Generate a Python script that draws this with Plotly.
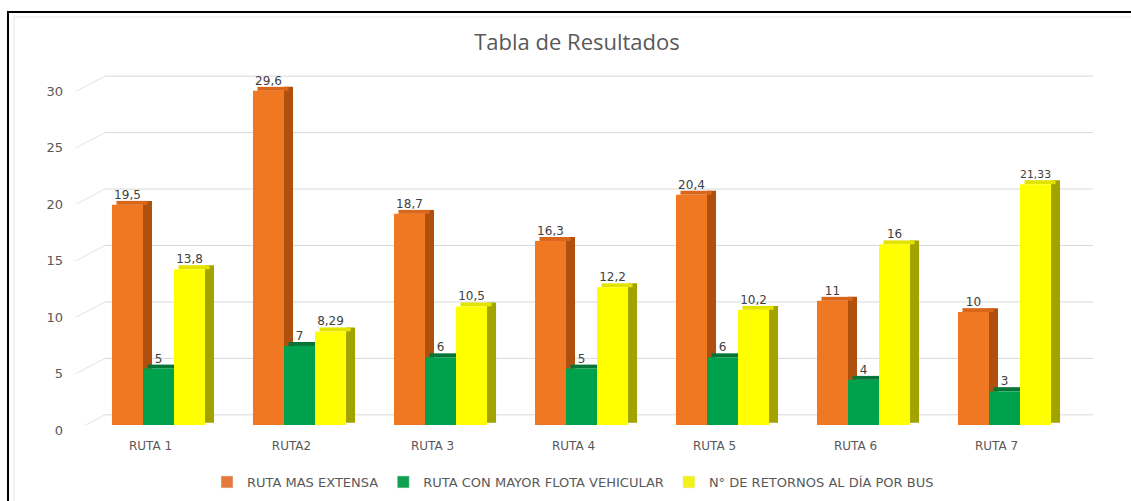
import plotly.graph_objects as go

categories = ["RUTA 1", "RUTA2", "RUTA 3", "RUTA 4", "RUTA 5", "RUTA 6", "RUTA 7"]
series_names = ["RUTA MAS EXTENSA", "RUTA CON MAYOR FLOTA VEHICULAR", "N° DE RETORNOS AL DÍA POR BUS"]
ruta_mas_extensa = [19.5, 29.6, 18.7, 16.3, 20.4, 11, 10]
ruta_mayor_flota = [5, 7, 6, 5, 6, 4, 3]
retornos_por_bus = [13.8, 8.29, 10.5, 12.2, 10.2, 16, 21.33]
y_ticks = [0, 5, 10, 15, 20, 25, 30]

series_values = [ruta_mas_extensa, ruta_mayor_flota, retornos_por_bus]
front_colors = ["#F07822", "#00A14D", "#FFFF00"]
side_colors = ["#B0500F", "#0B6B33", "#A3A300"]
top_colors = ["#D9661A", "#087538", "#E3E300"]
legend_colors = ["#E47A3C", "#10A050", "#F2F21A"]

W, H = 1131, 501
ML, MR, MT, MB = 88, 56, 75, 76
plot_w = W - ML - MR
plot_h = H - MT - MB
Y_MAX = 31.0

front_w = 0.22
side_w = 0.064
top_h = 0.35
group_start = -0.33

def fmt(v):
    return f"{v:g}".replace(".", ",")

fig = go.Figure()

for i, (name, vals) in enumerate(zip(series_names, series_values)):
    off = group_start + i * front_w
    # side face
    fig.add_trace(go.Bar(
        x=categories, y=[v + top_h - 0.2 for v in vals], base=0.2,
        offset=off + front_w, width=side_w,
        marker=dict(color=side_colors[i], line=dict(width=0)),
        showlegend=False, hoverinfo="skip"))
    # top face
    fig.add_trace(go.Bar(
        x=categories, y=[top_h] * len(vals), base=vals,
        offset=off + side_w / 2, width=front_w,
        marker=dict(color=top_colors[i], line=dict(width=0)),
        showlegend=False, hoverinfo="skip"))
    # front face with value labels
    fig.add_trace(go.Bar(
        x=categories, y=vals, name=name,
        offset=off, width=front_w,
        marker=dict(color=front_colors[i], line=dict(width=0)),
        text=[fmt(v) for v in vals], textposition="outside",
        textfont=dict(family="DejaVu Sans", size=12, color="#404040"),
        cliponaxis=False, showlegend=False))
    # legend entry
    fig.add_trace(go.Bar(
        x=[None], y=[None], name=name,
        marker=dict(color=legend_colors[i]), showlegend=True))

def xp(px):
    return (px - ML) / plot_w

shapes = []
shift = 0.9
for t in y_ticks:
    shapes.append(dict(type="line", xref="paper", yref="y",
                       x0=xp(105), x1=xp(1093), y0=t + shift, y1=t + shift,
                       line=dict(color="#D9D9D9", width=1), layer="below"))
    shapes.append(dict(type="line", xref="paper", yref="y",
                       x0=xp(76), x1=xp(105), y0=t - 0.45, y1=t + shift,
                       line=dict(color="#E3E3E3", width=1), layer="below"))
# outer frame
shapes.append(dict(type="rect", xref="paper", yref="paper",
                   x0=xp(8), x1=xp(1140), y0=-(H + 10 - (H - MB)) / plot_h,
                   y1=((H - MB) - 12) / plot_h,
                   line=dict(color="black", width=2), fillcolor="rgba(0,0,0,0)"))
shapes.append(dict(type="rect", xref="paper", yref="paper",
                   x0=xp(14), x1=xp(1140), y0=-(H + 10 - (H - MB)) / plot_h,
                   y1=((H - MB) - 17) / plot_h,
                   line=dict(color="#E6E6E6", width=1), fillcolor="rgba(0,0,0,0)"))

fig.update_layout(
    width=W, height=H,
    margin=dict(l=ML, r=MR, t=MT, b=MB, autoexpand=False),
    paper_bgcolor="white", plot_bgcolor="white",
    barmode="overlay",
    title=dict(text="Tabla de Resultados", x=577 / W, xanchor="center",
               y=1 - 42 / H, yanchor="middle",
               font=dict(family="Open Sans", size=22, color="#595959")),
    xaxis=dict(type="category", showgrid=False, zeroline=False, showline=False,
               ticks="", automargin=False,
               tickfont=dict(family="DejaVu Sans", size=12, color="#595959"),
               ticklabelstandoff=12, ticklabelshift=-8),
    yaxis=dict(range=[0, Y_MAX], tickvals=y_ticks, showgrid=False, zeroline=False,
               showline=False, ticks="", automargin=False,
               tickfont=dict(family="DejaVu Sans", size=13, color="#595959"),
               ticklabelstandoff=24, ticklabelshift=5),
    legend=dict(orientation="h", x=xp(573), xanchor="center",
                y=-(482 - (H - MB)) / plot_h, yanchor="middle",
                font=dict(family="DejaVu Sans", size=13, color="#595959"),
                itemwidth=30, traceorder="normal"),
    shapes=shapes,
    showlegend=True,
)

fig.write_html("out.html",
               config={"displayModeBar": False, "staticPlot": True},
               post_script="document.body.style.margin='0px';")
